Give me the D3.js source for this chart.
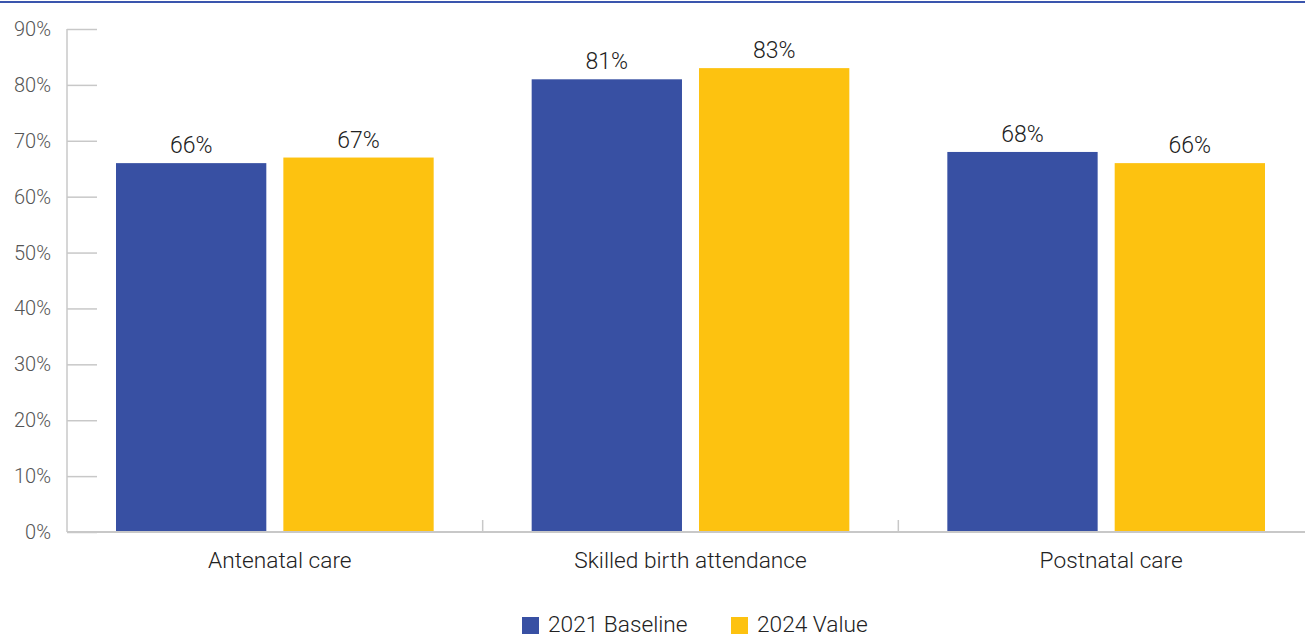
<!DOCTYPE html>
<html><head><meta charset="utf-8">
<script src="https://cdn.jsdelivr.net/npm/d3@7/dist/d3.min.js"></script>
<style>
html,body{margin:0;padding:0;background:#fff;}
svg{display:block;font-family:Roboto, "Liberation Sans", sans-serif;font-weight:300;}
</style></head>
<body>
<svg id="chart" width="1305" height="637"></svg>
<script>
const categories = ["Antenatal care", "Skilled birth attendance", "Postnatal care"];
const seriesNames = ["2021 Baseline", "2024 Value"];
const baseline2021 = [66, 81, 68];
const value2024 = [67, 83, 66];
const yTicks = [0, 10, 20, 30, 40, 50, 60, 70, 80, 90];
const colors = ["#3850a3", "#fdc210"];

const svg = d3.select("#chart");
const W = 1305, H = 637;
const x0 = 67, x1 = 1314, yTop = 29, yBot = 532;

// top rule
svg.append("line").attr("x1", 0).attr("x2", W).attr("y1", 2).attr("y2", 2)
  .attr("stroke", "#3a55ad").attr("stroke-width", 2);

const x = d3.scaleBand().domain(categories).range([x0, x1]).paddingInner(0).paddingOuter(0);
const y = d3.scaleLinear().domain([0, 90]).range([yBot, yTop]);
const xs = d3.scaleBand().domain(seriesNames).range([49, x.bandwidth() - 49]).paddingInner(17 / 167);

// y axis
const yAxis = svg.append("g").attr("transform", `translate(${x0},0)`)
  .call(d3.axisRight(y).tickValues(yTicks).tickSize(30).tickFormat(""));
yAxis.select(".domain").remove();
yAxis.selectAll(".tick line").attr("stroke", "#c8c8c8").attr("stroke-width", 1.5);
svg.append("line").attr("x1", x0).attr("x2", x0).attr("y1", yTop).attr("y2", yBot)
  .attr("stroke", "#c8c8c8").attr("stroke-width", 1.5);
svg.append("g").selectAll("text").data(yTicks).join("text")
  .attr("x", 51).attr("y", d => y(d)).attr("dy", "0.35em")
  .attr("text-anchor", "end").attr("font-size", 20).attr("fill", "#555")
  .text(d => d + "%");

// bars
const data = categories.map((c, i) => ({cat: c, vals: [baseline2021[i], value2024[i]]}));
const groups = svg.append("g").selectAll("g").data(data).join("g")
  .attr("transform", d => `translate(${x(d.cat)},0)`);
groups.selectAll("rect").data(d => d.vals.map((v, j) => ({s: seriesNames[j], v, j}))).join("rect")
  .attr("x", d => xs(d.s)).attr("width", xs.bandwidth())
  .attr("y", d => y(d.v)).attr("height", d => yBot - y(d.v))
  .attr("fill", d => colors[d.j]);
groups.selectAll("text.val").data(d => d.vals.map((v, j) => ({s: seriesNames[j], v, j}))).join("text")
  .attr("class", "val")
  .attr("x", d => xs(d.s) + xs.bandwidth() / 2).attr("y", d => y(d.v) - 10)
  .attr("text-anchor", "middle").attr("font-size", 23).attr("fill", "#222")
  .text(d => d.v + "%");

// x axis
const xAxis = svg.append("g").attr("transform", `translate(0,${yBot})`)
  .call(d3.axisBottom(x).tickSize(0).tickFormat(""));
xAxis.select(".domain").remove();
svg.append("line").attr("x1", x0).attr("x2", W).attr("y1", yBot).attr("y2", yBot)
  .attr("stroke", "#c8c8c8").attr("stroke-width", 2);
svg.append("g").selectAll("line").data(categories.slice(1)).join("line")
  .attr("x1", d => x(d)).attr("x2", d => x(d)).attr("y1", yBot).attr("y2", yBot - 12)
  .attr("stroke", "#c8c8c8").attr("stroke-width", 1.5);
const catShift = [5, 0, 5];
svg.append("g").selectAll("text").data(categories).join("text")
  .attr("x", (d, i) => x(d) + x.bandwidth() / 2 + catShift[i]).attr("y", 568)
  .attr("text-anchor", "middle").attr("font-size", 22.7).attr("fill", "#222")
  .text(d => d);

// legend
const legX = [522, 731];
const leg = svg.append("g").selectAll("g").data(seriesNames).join("g")
  .attr("transform", (d, i) => `translate(${legX[i]},617)`);
leg.append("rect").attr("width", 17).attr("height", 17).attr("fill", (d, i) => colors[i]);
leg.append("text").attr("x", 26).attr("y", 14.5)
  .attr("font-size", 22.7).attr("fill", "#222").text(d => d);
</script>
</body></html>
